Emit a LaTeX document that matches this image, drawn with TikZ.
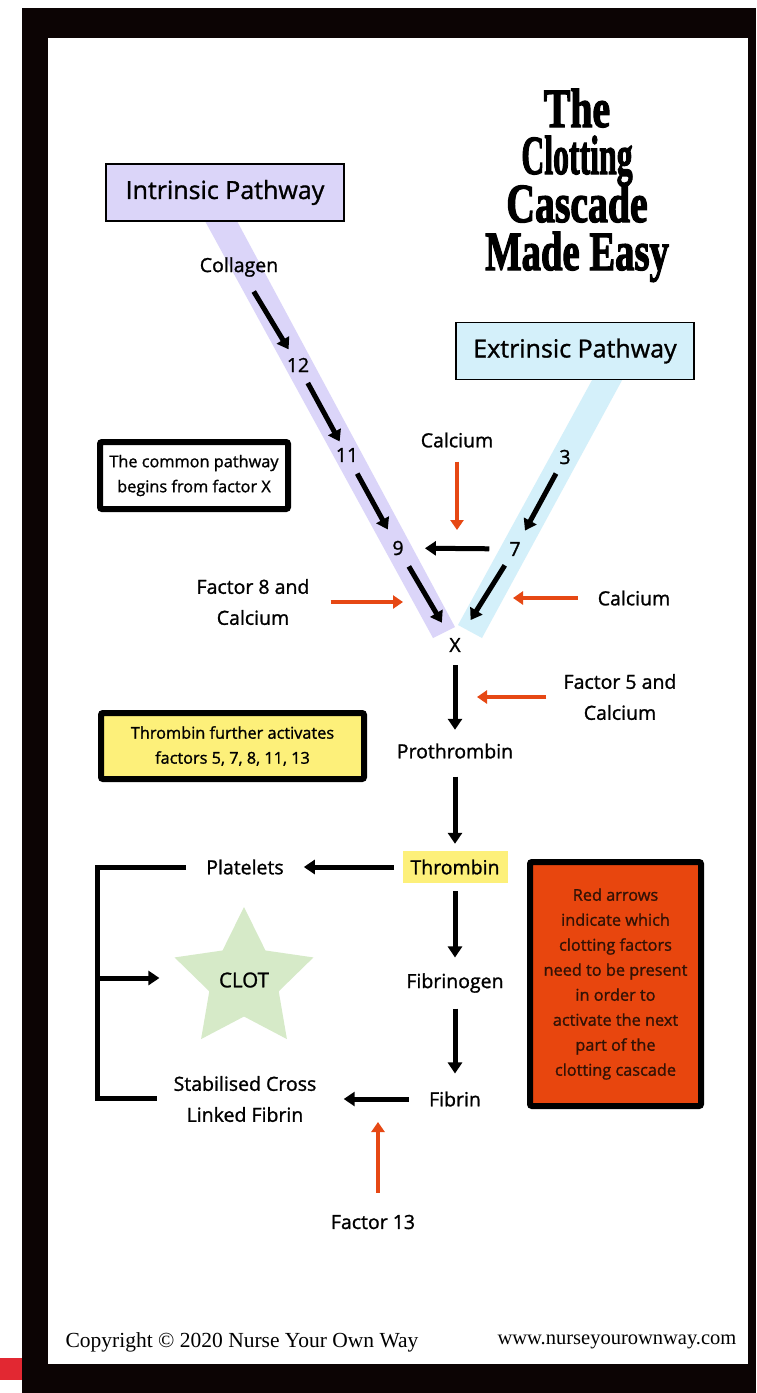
\documentclass[tikz,border=0pt]{standalone}
\usepackage{fontspec}
\setmainfont{Open Sans}
\newfontfamily\bodyfont[FakeBold=1.2]{Open Sans}
\newfontfamily\titlefont[BoldFeatures={FakeBold=2.5}]{Liberation Serif}
\newfontfamily\copyfont{Liberation Serif}
\usetikzlibrary{arrows.meta,calc,shapes.geometric}
\definecolor{lav}{RGB}{219,213,249}
\definecolor{sky}{RGB}{212,240,250}
\definecolor{yel}{RGB}{253,240,122}
\definecolor{grn}{RGB}{214,234,200}
\definecolor{redf}{RGB}{232,70,14}
\definecolor{redarrow}{RGB}{230,72,20}
\definecolor{redtext}{RGB}{50,18,5}
\definecolor{redbar}{RGB}{226,40,50}
\definecolor{frameblack}{RGB}{12,4,4}
\begin{document}
\begin{tikzpicture}[x=1pt,y=-1pt,
  lab/.style={font=\bodyfont\fontsize{19.5}{31}\selectfont, align=center, inner sep=2pt},
  small/.style={font=\bodyfont\fontsize{16.3}{25}\selectfont, align=center},
  pathbox/.style={draw=black, line width=1.6pt, font=\bodyfont\fontsize{25}{28}\selectfont, minimum width=238pt, minimum height=57pt},
  thickbox/.style={draw=black, line width=6pt, rounded corners=2pt, small},
  arr/.style={line width=5pt, -{Triangle[width=14pt,length=11pt]}},
  redarr/.style={draw=redarrow, line width=4.5pt, -{Triangle[width=13pt,length=10pt]}},
  titleline/.style={font={\titlefont\bfseries\fontsize{53}{49}\selectfont}, anchor=base, inner sep=0pt, text height=37pt, text depth=0pt},
]
\useasboundingbox (0,0) rectangle (756,1393);
% frame
\fill[white] (0,0) rectangle (756,1393);
\fill[frameblack] (22,8) rectangle (756,1393);
\fill[white] (48,38) rectangle (748,1364);
\fill[redbar] (0,1358) rectangle (22,1380);

% pathway bands
\fill[lav] (193.5,200) -- (225.7,200) -- (455,627) -- (433,638) -- cycle;
\fill[sky] (603,360) -- (633,360) -- (482,638) -- (458,625) -- cycle;

% title
\node[titleline] (title1) at (577,127) {\scalebox{0.75}[1.04]{The}};
\node[titleline] (title2) at (577,174) {\scalebox{0.6}[1.04]{Clotting}};
\node[titleline] (title3) at (577,222) {\scalebox{0.75}[1.04]{Cascade}};
\node[titleline] (title4) at (577,270) {\scalebox{0.73}[1.04]{Made Easy}};

% pathway boxes
\node[pathbox, fill=lav] (intr) at (225,192.5) {Intrinsic Pathway};
\node[pathbox, fill=sky] (extr) at (575,351) {Extrinsic Pathway};

% info boxes
\node[thickbox, fill=white, minimum width=188pt, minimum height=67pt] (common) at (194,475.5) {The common pathway\\begins from factor X};
\node[thickbox, fill=yel, minimum width=263pt, minimum height=66pt] (further) at (232.5,746) {Thrombin further activates\\factors 5, 7, 8, 11, 13};
\node[thickbox, fill=redf, text=redtext, minimum width=171pt, minimum height=244pt] (redbox) at (615.5,984) {Red arrows\\indicate which\\clotting factors\\need to be present\\in order to\\activate the next\\part of the\\clotting cascade};

% labels
\node[lab] (collagen) at (239,267) {Collagen};
\node[lab] (f12) at (298,365) {12};
\node[lab] (f11) at (347,455) {11};
\node[lab] (f9) at (398,548) {9};
\node[lab] (fX) at (455,645) {X};
\node[lab] (f3) at (565,457) {3};
\node[lab] (f7) at (515,549) {7};
\node[lab] (calTop) at (457,440) {Calcium};
\node[lab] (f8) at (253,602) {Factor 8 and\\Calcium};
\node[lab] (calR) at (634,598) {Calcium};
\node[lab] (f5) at (620,697) {Factor 5 and\\Calcium};
\node[lab] (pro) at (455,751) {Prothrombin};
\node[lab, fill=yel, minimum width=105pt, minimum height=32pt] (thr) at (455,867) {Thrombin};
\node[lab] (plt) at (245,867) {Platelets};
\node[lab] (fbg) at (455,983) {Fibrinogen};
\node[lab] (fib) at (455,1099) {Fibrin};
\node[lab] (stab) at (245,1099) {Stabilised Cross\\Linked Fibrin};
\node[lab] (f13) at (373,1222) {Factor 13};

% clot star
\node[star, star points=5, star point ratio=2, minimum size=146pt, inner sep=0pt, fill=grn, font=\bodyfont\fontsize{20.5}{24}\selectfont] (clot) at (244,980) {CLOT};

% black arrows (intrinsic / extrinsic)
\draw[arr] ($(collagen)!.25!(f12)$) -- ($(collagen)!.84!(f12)$);
\draw[arr] ($(f12)!.20!(f11)$) -- ($(f12)!.85!(f11)$);
\draw[arr] ($(f11)!.20!(f9)$) -- ($(f11)!.80!(f9)$);
\draw[arr] ($(f9)!.19!(fX)$) -- ($(f9)!.77!(fX)$);
\draw[arr] ($(f3)!.18!(f7)$) -- ($(f3)!.80!(f7)$);
\draw[arr] ($(f7)!.17!(fX)$) -- ($(f7)!.74!(fX)$);
\draw[arr] ($(f7)!.22!(f9)$) -- ($(f7)!.77!(f9)$);

% common pathway arrows
\draw[arr] ($(fX)!.19!(pro)$) -- ($(fX)!.80!(pro)$);
\draw[arr] ($(pro)!.22!(thr)$) -- ($(pro)!.80!(thr)$);
\draw[arr] ($(thr)!.29!(plt)$) -- ($(thr)!.72!(plt)$);
\draw[arr] ($(thr)!.21!(fbg)$) -- ($(thr)!.78!(fbg)$);
\draw[arr] ($(fbg)!.22!(fib)$) -- ($(fbg)!.78!(fib)$);
\draw[arr] ($(fib)!.22!(stab)$) -- ($(fib)!.53!(stab)$);

% bracket to clot
\coordinate (bt) at (97,867);
\coordinate (bb) at (97,1098);
\coordinate (bm) at (97,978);
\draw[line width=5pt] ([xshift=-18pt]plt.west) -- (bt) -- (bb) -- ([xshift=-14pt]stab.west |- bb);
\draw[arr, shorten >=38pt] (bm) -- (bm -| clot.west);

% red arrows
\coordinate (rTop) at (457,530);
\coordinate (r8) at (403,602);
\coordinate (rR) at (513,598);
\coordinate (r5) at (477,697);
\coordinate (r13) at (378,1122);
\draw[redarr, shorten <=12pt] (calTop.south) -- (rTop);
\draw[redarr, shorten <=19pt] (f8.east) -- (r8);
\draw[redarr, shorten <=18pt] (calR.west) -- (rR);
\draw[redarr, shorten <=15pt] (f5.west) -- (r5);
\draw[redarr, shorten <=20pt] (r13 |- f13.north) -- (r13);

% footer
\node[font={\copyfont\fontsize{21.5}{25}\selectfont}] (copy) at (242,1342) {Copyright © 2020 Nurse Your Own Way};
\node[font={\copyfont\fontsize{20.5}{25}\selectfont}] (url) at (617,1342) {www.nurseyourownway.com};
\end{tikzpicture}
\end{document}
